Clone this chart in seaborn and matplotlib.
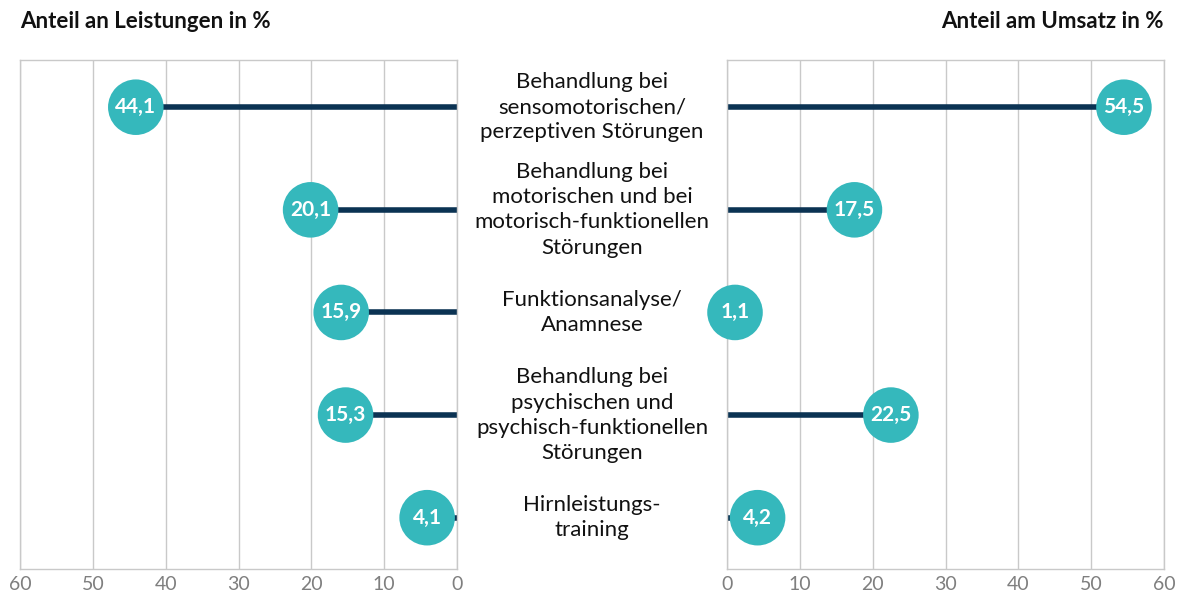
import matplotlib
matplotlib.use("Agg")
import matplotlib.pyplot as plt
import seaborn as sns
import pandas as pd

categories = [
    "Behandlung bei\nsensomotorischen/\nperzeptiven Störungen",
    "Behandlung bei\nmotorischen und bei\nmotorisch-funktionellen\nStörungen",
    "Funktionsanalyse/\nAnamnese",
    "Behandlung bei\npsychischen und\npsychisch-funktionellen\nStörungen",
    "Hirnleistungs-\ntraining",
]
leistungen = [44.1, 20.1, 15.9, 15.3, 4.1]
umsatz = [54.5, 17.5, 1.1, 22.5, 4.2]
ticks = [0, 10, 20, 30, 40, 50, 60]
title_left = "Anteil an Leistungen in %"
title_right = "Anteil am Umsatz in %"

sns.set_theme(style="white")
plt.rcParams['font.family'] = ['Lato', 'DejaVu Sans']

NAVY = "#0b3353"
TEAL = "#35b8bc"
GRID = "#c9c9c9"

fig = plt.figure(figsize=(11.81, 5.97), dpi=100)
axL = fig.add_axes([20/1181, 1-569/597, 437/1181, 509/597])
axR = fig.add_axes([727/1181, 1-569/597, 437/1181, 509/597])

df = pd.DataFrame({"cat": categories, "y": range(len(categories)),
                   "L": leistungen, "U": umsatz})

for ax, col, xlim in [(axL, "L", (60, 0)), (axR, "U", (0, 60))]:
    ax.set_xlim(*xlim)
    ax.set_ylim(4.5, -0.46)
    ax.set_xticks(ticks)
    ax.set_xticklabels([str(t) for t in ticks])
    ax.set_yticks([])
    for t in ticks:
        ax.axvline(t, color=GRID, lw=1, zorder=0)
    for s in ax.spines.values():
        s.set_color(GRID)
        s.set_linewidth(1)
    ax.hlines(df["y"], 0, df[col], color=NAVY, lw=4, zorder=2)
    sns.scatterplot(data=df, x=col, y="y", ax=ax, s=1600, color=TEAL,
                    edgecolor="none", zorder=3, legend=False, clip_on=False)
    for _, r in df.iterrows():
        ax.text(r[col], r["y"], f"{r[col]:.1f}".replace(".", ","),
                ha="center", va="center", color="white",
                fontsize=15, fontweight="bold", zorder=4)
    ax.tick_params(axis="x", colors="#7f7f7f", labelsize=14, length=0, pad=5)
    ax.set_xlabel("")
    ax.set_ylabel("")

# category labels in the middle
for i, c in enumerate(categories):
    y_fig = axL.transData.transform((0, i))[1]
    fig.text(592/1181, y_fig / 597, c, ha="center", va="center",
             fontsize=16, color="#111111", linespacing=1.32)

fig.text(20/1181, 1-22/597, title_left, ha="left", va="center",
         fontsize=16, fontweight="bold", color="#111111")
fig.text(1164/1181, 1-22/597, title_right, ha="right", va="center",
         fontsize=16, fontweight="bold", color="#111111")

fig.savefig("out.png", dpi=100)
